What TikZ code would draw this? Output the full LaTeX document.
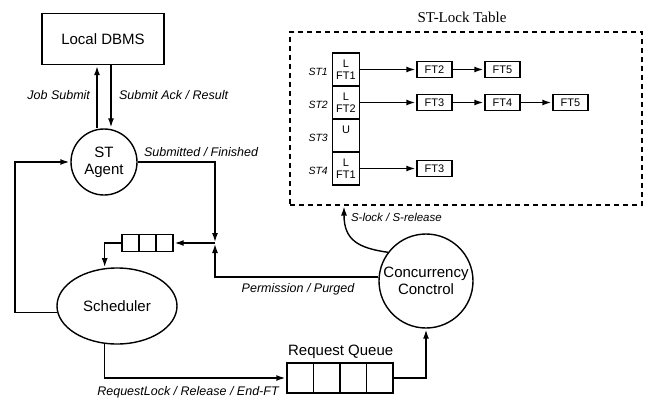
\documentclass[tikz,border=0pt]{standalone}
\usepackage{fontspec}
\setmainfont{Liberation Sans}
\newfontfamily\tablefont{Liberation Serif}
\usetikzlibrary{arrows.meta,shapes.geometric}

\def\cellw{17}
\def\reqw{26.5}
\def\rowh{33}

\begin{document}
\begin{tikzpicture}[x=1pt,y=1pt,line width=1.4pt,>={Latex[length=9pt,width=6pt]},shorten >=1pt]
    \tikzstyle{proc}=[draw,circle,align=center,inner sep=0pt,font=\fontsize{15}{17}\selectfont]
    \tikzstyle{msg}=[font=\fontsize{12.5}{14}\selectfont\itshape]
    \tikzstyle{cell}=[draw,minimum width=\cellw,minimum height=\cellw,inner sep=0pt]
    \tikzstyle{ft}=[draw,minimum width=35,minimum height=16,inner sep=0pt,font=\fontsize{11}{12}\selectfont]

    \useasboundingbox (0,0) rectangle (650,-404);

    % processes
    \node[draw,minimum width=122,minimum height=51,font=\fontsize{15}{17}\selectfont] (dbms) at (103,-39) {Local DBMS};
    \node[proc,minimum size=66] (agent) at (104,-162) {ST\\Agent};
    \node[proc,ellipse,minimum width=120,minimum height=76] (sched) at (117,-306) {Scheduler};
    \node[proc,minimum size=94] (cc) at (426,-281) {Concurrency\\Conctrol};

    % queues
    \foreach \i in {1,...,3}
        \node[cell] (Q-\i) at (113.5+\cellw*\i,-243) {};

    \foreach \i in {1,...,4}
        \node[cell,minimum width=\reqw,minimum height=30] (R-\i) at (273.75+\reqw*\i,-378) {};
    \node[font=\fontsize{15}{17}\selectfont,above] (reqname) at (R-2.north east) {Request Queue};

    \coordinate (junc) at (215,-243);

    % lock table
    \node[draw,dash pattern=on 5pt off 4pt,line width=1.7pt,minimum width=352,minimum height=173] (table) at (466,-118.5) {};
    \node[font=\tablefont\fontsize{15}{17}\selectfont] (tabletitle) at (462,-17) {ST-Lock Table};

    \foreach \i/\txt in {1/{L\\FT1},2/{L\\FT2},3/{U\\\phantom{L}},4/{L\\FT1}}
        \node[draw,minimum width=27,minimum height=\rowh,inner sep=0pt,align=center,font=\fontsize{11}{12}\selectfont] (L-\i) at (346,-36.5-\rowh*\i) {\txt};

    \foreach \i in {1,...,4}
        \node[anchor=east,font=\fontsize{10.5}{12}\selectfont\itshape] (S-\i) at ([yshift=-2pt]L-\i.west) {ST\i};

    \foreach \r/\c/\txt in {1/1/FT2,1/2/FT5,2/1/FT3,2/2/FT4,2/3/FT5,4/1/FT3}
        \node[ft] (F-\r-\c) at ({366.5+68*\c},{-36.5-\rowh*\r}) {\txt};

    \foreach \r in {1,2,4}
        \draw[->] (L-\r) -- (F-\r-1);
    \draw[->] (F-1-1) -- (F-1-2);
    \draw[->] (F-2-1) -- (F-2-2);
    \draw[->] (F-2-2) -- (F-2-3);

    % messages
    \draw[->] ([xshift=-7pt]agent.north) -- ([xshift=-7pt]agent.north |- dbms.south);
    \draw[->] ([xshift=7pt]agent.north |- dbms.south) -- ([xshift=7pt]agent.north);
    \node[msg,anchor=east] (jobsub) at (94,-95) {Job Submit};
    \node[msg,anchor=west] (ackres) at (115,-95) {Submit Ack / Result};

    \draw[->] (agent.east) -| (junc);
    \node[msg,anchor=west] (subfin) at (140,-152) {Submitted / Finished};

    \draw[->] (cc.175) -| (junc);
    \node[msg] (permpur) at (298,-289) {Permission / Purged};

    \draw[->] (junc) -- (Q-3);
    \draw[->] (Q-1) -| (sched.108);

    \draw[->] (sched.186) -- ++(-42,0) |- (agent.west);

    \draw[->] (sched.252) |- (R-1);
    \node[msg] (reqmsg) at (188,-392) {RequestLock / Release / End-FT};

    \draw[->] (R-4) -| (cc);

    \coordinate (slock) at (344,-205.5);
    \draw[->] (cc.143) .. controls (358,-248) and (344,-240) .. (slock);
    \node[msg,anchor=west,font=\fontsize{11.5}{13}\selectfont\itshape] (slockmsg) at (347,-217) {S-lock / S-release};
\end{tikzpicture}
\end{document}
